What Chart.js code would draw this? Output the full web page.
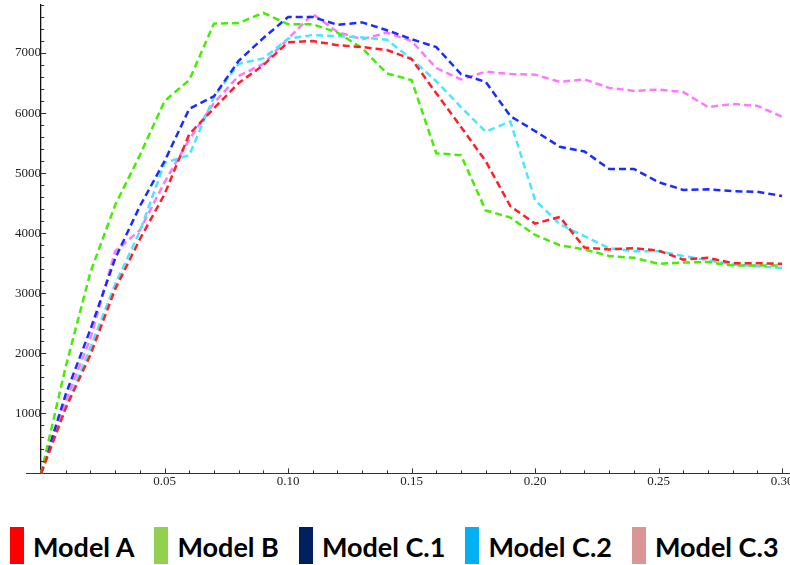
<!DOCTYPE html>
<html>
<head>
<meta charset="utf-8">
<script src="https://cdn.jsdelivr.net/npm/chart.js@4"></script>
<style>
  body { margin: 0; background: #fff; }
  #wrap { position: relative; width: 790px; height: 565px; }
  #chartBox { position: absolute; left: 0; top: 0; width: 790px; height: 496px; }
  #legend { position: absolute; left: 10px; top: 525px; display: flex; align-items: center; white-space: nowrap; }
  .item { display: flex; align-items: center; margin-right: 20px; flex-shrink: 0; }
  .swatch { width: 14px; height: 37px; margin-right: 9px; flex-shrink: 0; }
  .label { font-family: Lato, 'Open Sans', sans-serif; font-weight: bold; font-size: 27px; color: #000; line-height: 37px; padding-top: 3px; white-space: nowrap; }
</style>
</head>
<body>
<div id="wrap">
  <div id="chartBox"><canvas id="myChart"></canvas></div>
  <div id="legend"></div>
</div>
<script>
let xValues = [0, 0.01, 0.02, 0.03, 0.04, 0.05, 0.06, 0.07, 0.08, 0.09, 0.10,
    0.11, 0.12, 0.13, 0.14, 0.15, 0.16, 0.17, 0.18, 0.19, 0.20,
    0.21, 0.22, 0.23, 0.24, 0.25, 0.26, 0.27, 0.28, 0.29, 0.30];

let modelA = [0, 1090, 1980, 3070, 3900, 4650, 5650, 6080, 6500, 6800, 7180,
    7200, 7130, 7100, 7050, 6900, 6330, 5770, 5200, 4450, 4160,
    4270, 3760, 3730, 3750, 3710, 3560, 3590, 3500, 3500, 3490];
let modelB = [0, 1780, 3350, 4470, 5300, 6200, 6550, 7490, 7500, 7670, 7480,
    7480, 7340, 7080, 6660, 6550, 5330, 5300, 4380, 4260, 3970,
    3800, 3730, 3620, 3590, 3490, 3510, 3520, 3460, 3460, 3460];
let modelC1 = [0, 1320, 2400, 3580, 4450, 5200, 6070, 6280, 6870, 7250, 7600,
    7600, 7470, 7510, 7380, 7230, 7100, 6650, 6520, 5950, 5700,
    5440, 5360, 5070, 5070, 4850, 4720, 4730, 4700, 4690, 4620];
let modelC2 = [0, 1100, 2100, 3150, 4030, 5170, 5300, 6270, 6820, 6910, 7240,
    7300, 7280, 7260, 7220, 6900, 6530, 6100, 5690, 5860, 4550,
    4150, 3950, 3750, 3700, 3700, 3620, 3550, 3480, 3450, 3420];
let modelC3 = [0, 1200, 2250, 3700, 4050, 4850, 5560, 6170, 6620, 6820, 7240,
    7650, 7350, 7230, 7340, 7200, 6750, 6560, 6690, 6650, 6640,
    6520, 6560, 6420, 6370, 6390, 6350, 6100, 6150, 6120, 5940];

let seriesNames = ['Model A', 'Model B', 'Model C.1', 'Model C.2', 'Model C.3'];
let seriesValues = [modelA, modelB, modelC1, modelC2, modelC3];
let lineColors = ['#ff1f26', '#44ee00', '#1a2cff', '#4ae6ff', '#ff77ff'];
let legendColors = ['#ff0000', '#92d050', '#002060', '#00b0f0', '#d99694'];

let xTicks = [0.05, 0.10, 0.15, 0.20, 0.25, 0.30];
let yTicks = [1000, 2000, 3000, 4000, 5000, 6000, 7000];

let tickFont = { family: "'Liberation Serif', 'DejaVu Serif', serif", size: 13 };

// small inward ticks like the original plot
let innerTicks = {
    id: 'innerTicks',
    afterDraw(chart) {
        let c = chart.ctx;
        let xs = chart.scales.x, ys = chart.scales.y;
        let x0 = xs.getPixelForValue(0), y0 = ys.getPixelForValue(0);
        c.save();
        c.strokeStyle = '#333';
        c.lineWidth = 1;
        c.beginPath();
        for (let i = 1; i <= 30; i++) {
            let px = Math.round(xs.getPixelForValue(i / 100)) + 0.5;
            let len = i % 5 === 0 ? 5 : 3;
            c.moveTo(px, y0);
            c.lineTo(px, y0 - len);
        }
        for (let v = 200; v <= 7800; v += 200) {
            let py = Math.round(ys.getPixelForValue(v)) + 0.5;
            let len = v % 1000 === 0 ? 5 : 3;
            c.moveTo(x0, py);
            c.lineTo(x0 + len, py);
        }
        c.stroke();
        c.restore();
    }
};

let ctx = document.getElementById('myChart').getContext('2d');
let myChart = new Chart(ctx, {
    type: 'line',
    data: {
        datasets: seriesNames.map((name, i) => ({
            label: name,
            data: xValues.map((x, j) => ({ x: x, y: seriesValues[i][j] })),
            borderColor: lineColors[i],
            borderWidth: 2.5,
            borderDash: [7, 4],
            pointRadius: 0,
            tension: 0,
            fill: false
        }))
    },
    options: {
        responsive: true,
        maintainAspectRatio: false,
        animation: false,
        layout: { padding: { top: 5, left: 26, right: 0, bottom: 7 } },
        plugins: {
            legend: { display: false },
            tooltip: { enabled: false }
        },
        scales: {
            x: {
                type: 'linear',
                min: -0.0061,
                max: 0.3032,
                grid: { display: false, drawTicks: false },
                border: { color: '#333', width: 1 },
                ticks: {
                    font: tickFont,
                    color: '#222',
                    padding: 0,
                    maxRotation: 0,
                    callback: v => v.toFixed(2)
                },
                afterBuildTicks: s => { s.ticks = xTicks.map(v => ({ value: v })); },
                afterFit: s => { s.paddingLeft = 0; s.paddingRight = 0; }
            },
            y: {
                type: 'linear',
                position: { x: 0 },
                min: 0,
                max: 7800,
                grid: { display: false },
                border: { color: '#111', width: 1.3 },
                ticks: {
                    font: tickFont,
                    color: '#222',
                    padding: 6,
                    callback: v => String(v)
                },
                afterBuildTicks: s => { s.ticks = yTicks.map(v => ({ value: v })); },
                afterFit: s => { s.paddingTop = 0; s.paddingBottom = 0; }
            }
        }
    },
    plugins: [innerTicks]
});

createLegend = () => {
    let legendDiv = document.getElementById('legend');
    for (let i = 0; i < seriesNames.length; i++) {
        let item = document.createElement('div');
        item.className = 'item';
        let swatch = document.createElement('div');
        swatch.className = 'swatch';
        swatch.style.background = legendColors[i];
        let label = document.createElement('span');
        label.className = 'label';
        label.innerText = seriesNames[i];
        item.appendChild(swatch);
        item.appendChild(label);
        legendDiv.appendChild(item);
    }
}

createLegend();
</script>
</body>
</html>
